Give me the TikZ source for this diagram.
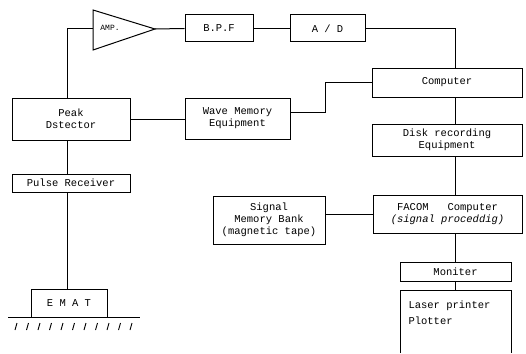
\documentclass[tikz,border=0pt]{standalone}
\usepackage{fontspec}
\newfontfamily\tw{Liberation Mono}
\begin{document}
\begin{tikzpicture}[x=1pt,y=-1pt,
  line width=1pt,
  every node/.style={font=\tw\fontsize{10.5}{12}\selectfont, inner sep=1pt},
  blk/.style={draw, rectangle, align=center}]
\useasboundingbox (0,0) rectangle (526,353);
% AMP triangle
\coordinate (ampin) at (93,29);
\coordinate (ampout) at (155,29);
\draw (93,10) -- (ampout) -- (93,50) -- cycle;
\node[font=\tw\fontsize{8}{9}\selectfont] (amptext) at (110,28) {AMP.};
% boxes
\node[blk, minimum width=68, minimum height=27] (bpf) at (219,28.5) {B.P.F};
\node[blk, minimum width=75, minimum height=27] (ad) at (327.5,28.5) {A / D};
\node[blk, minimum width=150, minimum height=29] (comp) at (447,82.5) {Computer};
\node[blk, minimum width=105, minimum height=41] (wave) at (237.5,118.5) {Wave Memory\\Equipment};
\node[blk, minimum width=118, minimum height=42] (peak) at (71,119) {Peak\\Dstector};
\node[blk, minimum width=118, minimum height=18] (pulse) at (71,183) {Pulse Receiver};
\node[blk, minimum width=76, minimum height=28] (emat) at (69,303) {E M A T};
\node[blk, minimum width=150, minimum height=32] (disk) at (447,140) {Disk recording\\Equipment};
\node[blk, minimum width=149, minimum height=38] (facom) at (447.5,214) {FACOM~~~Computer\\\textit{(signal proceddig)}};
\node[blk, minimum width=112, minimum height=48] (signal) at (269,220) {Signal\\Memory Bank\\(magnetic tape)};
\node[blk, minimum width=111, minimum height=19] (mon) at (455.5,271.5) {Moniter};
% laser printer box (open at bottom)
\coordinate (laser) at (455,290);
\draw (400,353) -- (400,290) -- (511,290) -- (511,353);
\node[anchor=north west, align=left, font=\tw\fontsize{10.5}{16}\selectfont] (lasertext) at (407,299) {Laser printer\\Plotter};
% vertical guide coordinates
\coordinate (lx) at (67,0);
\coordinate (cx) at (455,0);
\coordinate (j1) at (325,112);
% connectors
\draw (peak.north -| lx) |- (ampin);
\draw (ampout) -- (bpf.west);
\draw (bpf.east) -- (ad.west);
\draw (ad.east) -| (comp.north -| cx);
\draw (peak.east) -- (peak.east -| wave.west);
\draw (wave.east |- j1) -- (j1) |- (comp.west);
\draw (comp.south -| cx) -- (disk.north -| cx);
\draw (disk.south -| cx) -- (facom.north -| cx);
\draw (facom.south -| cx) -- (mon.north -| cx);
\draw (mon.south -| cx) -- (laser);
\draw (signal.east |- facom.west) -- (facom.west);
\draw (peak.south -| lx) -- (pulse.north -| lx);
\draw (pulse.south -| lx) -- (emat.north -| lx);
% ground
\draw (8,317) -- (140,317);
\foreach \i in {0,...,10} {
  \draw[line width=0.9pt] ({15+\i*11.5},330) -- ({17+\i*11.5},323);
}
\end{tikzpicture}
\end{document}
